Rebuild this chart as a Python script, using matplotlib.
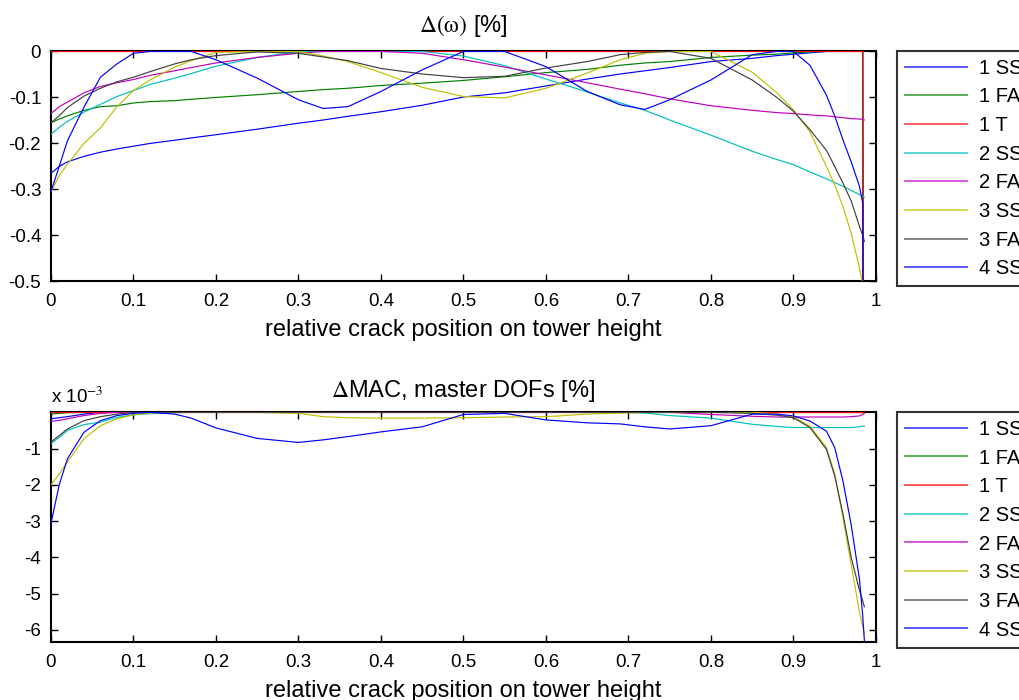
import numpy as np
import matplotlib
matplotlib.use('Agg')
import matplotlib.pyplot as plt

plt.rcParams['font.family'] = ['Liberation Sans', 'DejaVu Sans']
plt.rcParams['mathtext.fontset'] = 'stix'
plt.rcParams['axes.unicode_minus'] = False

# posicion relativa de la grieta
pos = [0, 0.01, 0.02, 0.04, 0.06, 0.08, 0.10, 0.12, 0.15, 0.17, 0.20, 0.25,
       0.30, 0.33, 0.36, 0.40, 0.45, 0.50, 0.55, 0.60, 0.65, 0.69, 0.72, 0.75,
       0.80, 0.85, 0.88, 0.90, 0.92, 0.94, 0.95, 0.96, 0.97, 0.98, 0.984, 0.986]

modos = ['1 SS', '1 FA', '1 T', '2 SS', '2 FA', '3 SS', '3 FA', '4 SS']
colores = ['#0000ff', '#008000', '#ff0000', '#00bfbf', '#bf00bf', '#bfbf00', '#404040', '#0000ff']

# delta frecuencia [%]
dw_1ss = [-0.265, -0.25, -0.24, -0.228, -0.219, -0.212, -0.206, -0.200, -0.193, -0.188, -0.181, -0.169,
          -0.156, -0.149, -0.141, -0.131, -0.117, -0.099, -0.090, -0.075, -0.060, -0.049, -0.042, -0.035,
          -0.022, -0.015, -0.009, -0.006, -0.003, 0, 0, 0, 0, 0, 0, -2.0]
dw_1fa = [-0.155, -0.147, -0.140, -0.128, -0.120, -0.118, -0.112, -0.109, -0.107, -0.104, -0.100, -0.094,
          -0.087, -0.083, -0.080, -0.074, -0.069, -0.063, -0.055, -0.046, -0.039, -0.030, -0.025, -0.022,
          -0.013, -0.008, -0.006, -0.003, -0.001, 0, 0, 0, 0, 0, 0, -2.0]
dw_1t = [0, 0, 0, 0, 0, 0, 0, 0, 0, 0, 0, 0,
         0, 0, 0, 0, 0, 0, 0, 0, 0, 0, 0, 0,
         0, 0, 0, 0, 0, 0, 0, 0, 0, 0, 0, -2.0]
dw_2ss = [-0.180, -0.165, -0.152, -0.132, -0.115, -0.098, -0.085, -0.072, -0.058, -0.048, -0.032, -0.013,
          0, 0, 0, 0, 0, -0.010, -0.031, -0.060, -0.088, -0.112, -0.128, -0.149,
          -0.182, -0.217, -0.235, -0.246, -0.262, -0.277, -0.285, -0.293, -0.302, -0.311, -0.315, -0.317]
dw_2fa = [-0.135, -0.120, -0.110, -0.090, -0.076, -0.068, -0.061, -0.052, -0.042, -0.035, -0.025, -0.013,
          -0.004, 0, 0, 0, -0.004, -0.018, -0.034, -0.051, -0.068, -0.082, -0.092, -0.103,
          -0.118, -0.128, -0.133, -0.135, -0.138, -0.140, -0.142, -0.144, -0.146, -0.147, -0.148, -0.149]
dw_3ss = [-0.305, -0.270, -0.245, -0.200, -0.166, -0.120, -0.085, -0.062, -0.034, -0.020, -0.002, 0,
          0, -0.010, -0.022, -0.046, -0.078, -0.098, -0.101, -0.080, -0.047, -0.018, -0.004, 0,
          0, -0.045, -0.090, -0.127, -0.175, -0.250, -0.290, -0.337, -0.395, -0.470, -0.505, -0.52]
dw_3fa = [-0.155, -0.140, -0.122, -0.097, -0.080, -0.066, -0.056, -0.044, -0.027, -0.018, -0.009, -0.001,
          -0.004, -0.012, -0.020, -0.037, -0.049, -0.057, -0.054, -0.036, -0.022, -0.007, -0.002, 0,
          -0.015, -0.062, -0.100, -0.130, -0.170, -0.215, -0.250, -0.286, -0.325, -0.380, -0.400, -0.413]
dw_4ss = [-0.305, -0.250, -0.194, -0.121, -0.056, -0.027, -0.004, 0, 0, 0, -0.018, -0.058,
          -0.105, -0.124, -0.120, -0.087, -0.040, 0, 0, -0.033, -0.087, -0.116, -0.126, -0.105,
          -0.062, -0.007, 0, 0, -0.030, -0.095, -0.140, -0.192, -0.240, -0.293, -0.330, -2.0]

# delta MAC [x 1e-3 %]
dm_1ss = [-0.18, -0.15, -0.12, -0.05, 0, 0, 0, 0, 0, 0, 0, 0,
          0, 0, 0, 0, 0, 0, 0, 0, 0, 0, 0, 0,
          0, 0, 0, 0, 0, 0, 0, 0, 0, 0, 0, 0]
dm_1fa = [-0.05, -0.03, -0.01, 0, 0, 0, 0, 0, 0, 0, 0, 0,
          0, 0, 0, 0, 0, 0, 0, 0, 0, 0, 0, 0,
          0, 0, 0, 0, 0, 0, 0, 0, 0, 0, 0, 0]
dm_1t = [0, 0, 0, 0, 0, 0, 0, 0, 0, 0, 0, 0,
         0, 0, 0, 0, 0, 0, 0, 0, 0, 0, 0, 0,
         0, 0, 0, 0, 0, 0, 0, 0, 0, 0, 0, 0]
dm_2ss = [-0.87, -0.69, -0.50, -0.34, -0.27, -0.14, -0.07, -0.04, -0.01, 0, 0, 0,
          0, 0, 0, 0, 0, 0, 0, 0, 0, 0, -0.02, -0.09,
          -0.16, -0.33, -0.39, -0.42, -0.42, -0.42, -0.42, -0.42, -0.42, -0.40, -0.38, -0.38]
dm_2fa = [-0.25, -0.22, -0.18, -0.09, -0.03, 0, 0, 0, 0, 0, 0, 0,
          0, 0, 0, 0, 0, 0, 0, 0, 0, 0, 0, 0,
          -0.06, -0.11, -0.13, -0.13, -0.13, -0.13, -0.13, -0.13, -0.12, -0.10, -0.05, -0.03]
dm_3ss = [-2.00, -1.70, -1.37, -0.73, -0.37, -0.18, -0.07, -0.02, 0, 0, 0, 0,
          -0.03, -0.12, -0.15, -0.16, -0.16, -0.15, -0.13, -0.12, -0.05, -0.02, 0, 0,
          0, 0, -0.05, -0.13, -0.38, -0.97, -1.70, -2.90, -4.20, -5.50, -5.90, -6.10]
dm_3fa = [-0.82, -0.64, -0.46, -0.23, -0.12, -0.05, 0, 0, 0, 0, 0, 0,
          0, 0, 0, 0, 0, 0, 0, 0, 0, 0, 0, 0,
          0, -0.03, -0.08, -0.15, -0.42, -1.02, -1.75, -2.80, -4.00, -4.90, -5.20, -5.36]
dm_4ss = [-3.07, -2.00, -1.28, -0.55, -0.23, -0.09, -0.03, 0, -0.05, -0.16, -0.43, -0.72,
          -0.83, -0.76, -0.67, -0.54, -0.40, -0.06, -0.03, -0.21, -0.29, -0.32, -0.40, -0.46,
          -0.37, -0.05, -0.05, -0.10, -0.24, -0.52, -0.97, -1.89, -3.10, -4.60, -5.60, -6.30]

dw = [dw_1ss, dw_1fa, dw_1t, dw_2ss, dw_2fa, dw_3ss, dw_3fa, dw_4ss]
dm = [dm_1ss, dm_1fa, dm_1t, dm_2ss, dm_2fa, dm_3ss, dm_3fa, dm_4ss]


def estilo(ax):
    ax.set_xlim(0, 1)
    ax.set_xticks(np.arange(0, 1.01, 0.1))
    ax.set_xticklabels(['0', '0.1', '0.2', '0.3', '0.4', '0.5', '0.6', '0.7', '0.8', '0.9', '1'])
    ax.tick_params(direction='in', top=True, right=True, length=5, width=1, labelsize=13.5, pad=8.5)
    ax.tick_params(axis='y', pad=7)
    for s in ax.spines.values():
        s.set_linewidth(1.5)
        s.set_zorder(2)
    ax.set_xlabel('relative crack position on tower height', fontsize=17, labelpad=6.5)


fig = plt.figure(figsize=(10.19, 7.0), dpi=100)
ax1 = fig.add_axes([0.0500, 0.5979, 0.8096, 0.3286])
ax2 = fig.add_axes([0.0500, 0.0824, 0.8096, 0.3286])

for k in range(len(modos)):
    ax1.plot(pos, dw[k], color=colores[k], lw=0.85, label=modos[k], zorder=3)
    ax2.plot(pos, np.array(dm[k]) * 1e-3, color=colores[k], lw=0.85, label=modos[k], zorder=3)

estilo(ax1)
ax1.set_ylim(-0.5, 0)
ax1.set_yticks([-0.5, -0.4, -0.3, -0.2, -0.1, 0])
ax1.set_yticklabels(['-0.5', '-0.4', '-0.3', '-0.2', '-0.1', '0'])
ax1.set_title(r'$\Delta(\mathrm{\omega})$ [%]', fontsize=17, pad=14)

estilo(ax2)
ax2.set_ylim(-6.34e-3, 0)
ax2.set_yticks([-6e-3, -5e-3, -4e-3, -3e-3, -2e-3, -1e-3])
ax2.set_yticklabels(['-6', '-5', '-4', '-3', '-2', '-1'])
ax2.set_title(r'$\Delta$MAC, master DOFs [%]', fontsize=17, pad=11)
ax2.text(0.0, 1.04, r'x 10$^{-3}$', transform=ax2.transAxes, fontsize=13.5, ha='left', va='baseline')

for ax, top in [(ax1, 0.9276), (ax2, 0.4117)]:
    leg = ax.legend(loc='upper left', bbox_to_anchor=(0.880, top), bbox_transform=fig.transFigure,
                    fontsize=14.5, frameon=True, fancybox=False, edgecolor='black',
                    borderaxespad=0, borderpad=0.4, handlelength=3.1, handletextpad=0.6,
                    labelspacing=0.48)
    leg.get_frame().set_linewidth(1.5)
    for h in leg.get_lines():
        h.set_linewidth(1.4)
        h.set_alpha(0.65)

fig.savefig('out.png', dpi=100)
